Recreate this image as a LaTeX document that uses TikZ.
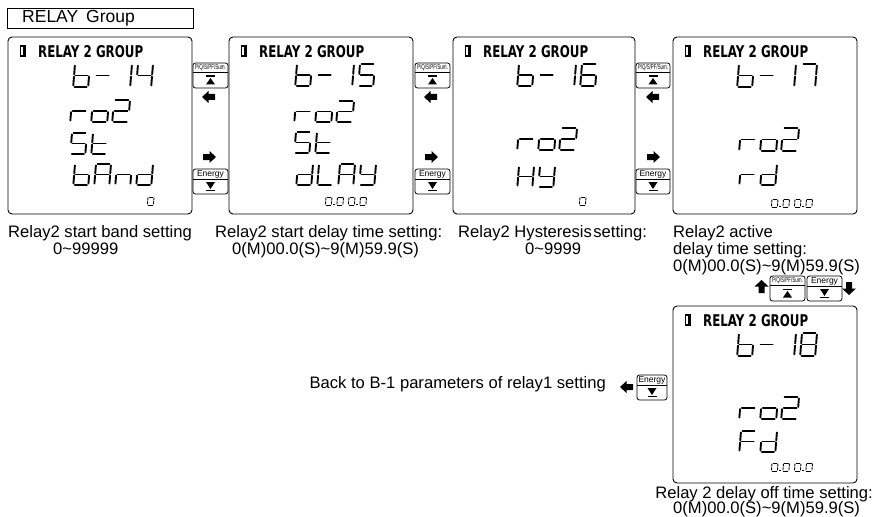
\documentclass[tikz,border=0pt]{standalone}
\usepackage{fontspec}
\usepackage{graphicx}
\setmainfont{Liberation Sans}
\newfontfamily\hdfont{DejaVu Sans}

\makeatletter
\def\sg@a{(0.1,0)--(0.9,0)}
\def\sg@b{(1,0.07)--(1,0.45)}
\def\sg@c{(1,0.55)--(1,0.93)}
\def\sg@d{(0.1,1)--(0.9,1)}
\def\sg@e{(0,0.55)--(0,0.93)}
\def\sg@f{(0,0.07)--(0,0.45)}
\def\sg@g{(0.1,0.5)--(0.9,0.5)}
\@namedef{lc@0}{a,b,c,d,e,f}
\@namedef{lc@1}{b,c}
\@namedef{lc@2}{a,b,g,e,d}
\@namedef{lc@4}{f,g,b,c}
\@namedef{lc@5}{a,f,g,c,d}
\@namedef{lc@6}{a,f,g,e,c,d}
\@namedef{lc@7}{a,b,c}
\@namedef{lc@8}{a,b,c,d,e,f,g}
\@namedef{lc@b}{f,e,g,c,d}
\@namedef{lc@-}{g}
\@namedef{lc@r}{e,g}
\@namedef{lc@o}{g,c,d,e}
\@namedef{lc@S}{a,f,g,c,d}
\@namedef{lc@t}{f,e,g,d}
\@namedef{lc@A}{a,b,c,e,f,g}
\@namedef{lc@n}{e,g,c}
\@namedef{lc@d}{b,c,d,e,g}
\@namedef{lc@L}{f,e,d}
\@namedef{lc@Y}{f,g,b,c,d}
\@namedef{lc@H}{f,e,b,c,g}
\@namedef{lc@F}{a,f,e,g}
\makeatother

% #1 x, #2 y (top-left), #3 width, #4 height, #5 pitch, #6 chars, #7 style
\newcommand\lcdstr[7]{%
  \foreach \ch [count=\ii from 0] in {#6}{%
    \begin{scope}[shift={({#1+\ii*#5},{#2})},xslant=0.08,xscale=#3,yscale=#4]
      \edef\lcsegs{\csname lc@\ch\endcsname}%
      \foreach \s in \lcsegs {%
        \expandafter\let\expandafter\lcpath\csname sg@\s\endcsname
        \draw[#7] \lcpath;
      }%
    \end{scope}%
  }%
}
% small 0.00.0 readout at top-left x,y
\newcommand\timeread[2]{%
  \lcdstr{#1}{#2}{6}{8}{11.5}{0,0,0,0}{sseg}%
  \fill (#1+7.2,#2+6.8) rectangle ++(1.5,1.5);
  \fill (#1+30.2,#2+6.8) rectangle ++(1.5,1.5);
}
% LCD panel: left, top, width, height, name
\newcommand\lcdpanel[5]{%
  \node[lcd, minimum width=#3pt, minimum height=#4pt] (#5) at (#1,#2) {};
  \fill (#1+12,#2+8) rectangle ++(5,1.7);
  \fill (#1+15,#2+8) rectangle ++(2.6,12);
  \fill (#1+12,#2+18.3) rectangle ++(5,1.7);
  \fill (#1+12,#2+9) rectangle ++(0.8,10);
  \node[anchor=north west, inner sep=0pt] (#5h) at (#1+30,#2+8)
    {\resizebox{105pt}{12pt}{\hdfont\bfseries RELAY 2 GROUP}};
}
% P/Q button: x, y, name, width
\newcommand\pqbtn[4]{%
  \node[btn, minimum width=#4pt] (#3) at (#1,#2) {};
  \draw[line width=0.6pt] ([yshift=-9.5pt]#3.north west) -- ([yshift=-9.5pt]#3.north east);
  \node[inner sep=0pt] (#3t) at ([yshift=-5pt]#3.north) {\resizebox{\dimexpr #4pt-4pt\relax}{5pt}{P/Q/S/PF/Sum.}};
  \fill ([xshift=-4.5pt,yshift=-12.5pt]#3.north) rectangle ([xshift=4.5pt,yshift=-14pt]#3.north);
  \fill ([xshift=-4.5pt,yshift=-21.5pt]#3.north) -- ([xshift=4.5pt,yshift=-21.5pt]#3.north) -- ([yshift=-15pt]#3.north) -- cycle;
}
% Energy button
\newcommand\enbtn[4]{%
  \node[btn, minimum width=#4pt] (#3) at (#1,#2) {};
  \draw[line width=0.6pt] ([yshift=-10.5pt]#3.north west) -- ([yshift=-10.5pt]#3.north east);
  \node[inner sep=0pt] (#3t) at ([yshift=-5.5pt]#3.north) {\fontsize{8.5}{9}\selectfont Energy};
  \fill ([xshift=-4.5pt,yshift=-13pt]#3.north) -- ([xshift=4.5pt,yshift=-13pt]#3.north) -- ([yshift=-20pt]#3.north) -- cycle;
  \fill ([xshift=-4.5pt,yshift=-20.8pt]#3.north) rectangle ([xshift=4.5pt,yshift=-22.3pt]#3.north);
}
\newcommand\larr[2]{\fill (#1,#2) -- ++(6.5,-6) -- ++(0,3) -- ++(6.5,0) -- ++(0,6) -- ++(-6.5,0) -- ++(0,3) -- cycle;}
\newcommand\rarr[2]{\fill (#1,#2) -- ++(-6.5,-6) -- ++(0,3) -- ++(-6.5,0) -- ++(0,6) -- ++(6.5,0) -- ++(0,3) -- cycle;}
\newcommand\uarr[2]{\fill (#1,#2) -- ++(-7,6.5) -- ++(4,0) -- ++(0,6.5) -- ++(6,0) -- ++(0,-6.5) -- ++(4,0) -- cycle;}
\newcommand\darr[2]{\fill (#1,#2) -- ++(-7,-6.5) -- ++(4,0) -- ++(0,-6.5) -- ++(6,0) -- ++(0,6.5) -- ++(4,0) -- cycle;}

\tikzset{
  lcd/.style={draw, line width=0.9pt, rounded corners=4pt, inner sep=0pt, outer sep=0pt, anchor=north west},
  btn/.style={draw, line width=0.8pt, rounded corners=2.5pt, inner sep=0pt, outer sep=0pt,
              minimum height=25pt, anchor=north west},
  seg/.style={line width=1.9pt, line cap=round},
  sseg/.style={line width=0.9pt},
  lbl/.style={inner sep=0pt, font=\fontsize{16.6}{17}\selectfont},
}

\begin{document}
\begin{tikzpicture}[x=1pt,y=-1pt]
\useasboundingbox (0,0) rectangle (874,516);

% title
\node[draw, line width=0.8pt, anchor=north west, minimum width=186pt, minimum height=20pt, inner sep=0pt] (title) at (7,8) {};
\node[lbl, anchor=west, font=\fontsize{17.5}{18}\selectfont] (titlet) at (22,18.5) {RELAY\hspace{3pt} Group};

% LCD 1
\lcdpanel{8}{37}{184}{177}{lcd1}
\lcdstr{75}{64}{15}{23}{21}{b,-,1,4}{seg}
\lcdstr{72}{100}{16}{22}{21}{r,o,2}{seg}
\lcdstr{72}{133}{15}{21}{21}{S,t}{seg}
\lcdstr{75}{164}{15}{21}{21}{b,A,n,d}{seg}
\lcdstr{148}{197}{6}{8}{11.5}{0}{sseg}

% buttons col 1
\pqbtn{193}{63}{pq1}{35}
\larr{202}{97}
\rarr{216}{157}
\enbtn{193}{169}{en1}{35}

% LCD 2
\lcdpanel{229}{37}{184}{177}{lcd2}
\lcdstr{297}{64}{15}{22}{21}{b,-,1,5}{seg}
\lcdstr{296}{101}{16}{21}{21}{r,o,2}{seg}
\lcdstr{296}{132}{15}{21}{21}{S,t}{seg}
\lcdstr{298}{164}{15}{21}{21}{d,L,A,Y}{seg}
\timeread{326}{197}

% buttons col 2
\pqbtn{415}{63}{pq2}{35}
\larr{424}{97}
\rarr{438}{157}
\enbtn{415}{169}{en2}{35}

% LCD 3
\lcdpanel{453}{37}{182}{177}{lcd3}
\lcdstr{519}{64}{15}{22}{21}{b,-,1,6}{seg}
\lcdstr{519}{128}{16}{22}{21}{r,o,2}{seg}
\lcdstr{519}{166}{15}{21}{21}{H,Y}{seg}
\lcdstr{580}{197}{6}{8}{11.5}{0}{sseg}

% buttons col 3
\pqbtn{636}{63}{pq3}{34}
\larr{646}{97}
\rarr{660}{157}
\enbtn{636}{169}{en3}{34}

% LCD 4
\lcdpanel{673}{37}{184}{177}{lcd4}
\lcdstr{739}{64}{15}{23}{21}{b,-,1,7}{seg}
\lcdstr{741}{128}{16}{23}{21}{r,o,2}{seg}
\lcdstr{741}{164}{15}{21}{21}{r,d}{seg}
\timeread{772}{199}

% LCD 5
\lcdpanel{673}{306}{184}{177}{lcd5}
\lcdstr{739}{333}{15}{23}{21}{b,-,1,8}{seg}
\lcdstr{741}{397}{16}{22}{21}{r,o,2}{seg}
\lcdstr{741}{431}{15}{21}{21}{F,d}{seg}
\timeread{772}{463}

% buttons above LCD 5
\pqbtn{770}{276}{pq4}{35}
\enbtn{807}{276}{en4}{35}
\uarr{761.5}{280}
\darr{849}{295}

% back
\enbtn{637}{375}{en5}{30}
\larr{620}{387}
\node[lbl, anchor=base east] (back) at (606,388) {Back to B-1 parameters of relay1 setting};

% labels
\node[lbl, anchor=base west] (l1a) at (8,237) {Relay2 start band setting};
\node[lbl, anchor=base west] (l1b) at (53,254) {0\char`~99999};
\node[lbl, anchor=base west] (l2a) at (215,237) {Relay2 start delay time setting:};
\node[lbl, anchor=base west] (l2b) at (232,254) {0(M)00.0(S)\char`~9(M)59.9(S)};
\node[lbl, anchor=base west] (l3a) at (458,237) {Relay2 Hysteresis\hspace{1.5pt}setting:};
\node[lbl, anchor=base west] (l3b) at (525,254) {0\char`~9999};
\node[lbl, anchor=base west] (l4a) at (673,237) {Relay2 active};
\node[lbl, anchor=base west] (l4b) at (673,254) {delay time setting:};
\node[lbl, anchor=base west] (l4c) at (673,271) {0(M)00.0(S)\char`~9(M)59.9(S)};
\node[lbl, anchor=base east] (l5a) at (873,498) {Relay 2 delay off time setting:};
\node[lbl, anchor=base west] (l5b) at (673,513) {0(M)00.0(S)\char`~9(M)59.9(S)};
\end{tikzpicture}
\end{document}
